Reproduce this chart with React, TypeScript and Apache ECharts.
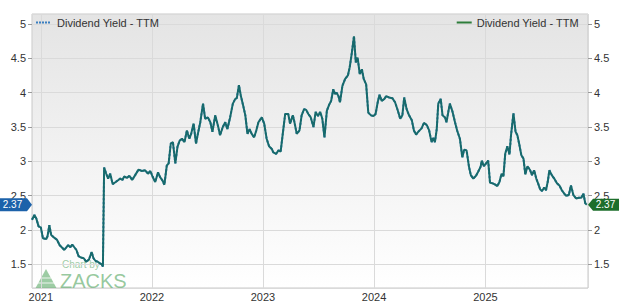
import React, { useEffect, useRef } from 'react';
import * as echarts from 'echarts';

const seriesLabel = 'Dividend Yield - TTM';

const dates = [
  '2020-12-03','2020-12-11','2020-12-17','2020-12-25','2021-01-01','2021-01-08','2021-01-19','2021-01-23','2021-01-29','2021-02-04',
  '2021-02-14','2021-02-23','2021-03-04','2021-03-13','2021-03-19','2021-03-26','2021-04-01','2021-04-08','2021-04-14','2021-04-21',
  '2021-04-28','2021-05-05','2021-05-13','2021-05-22','2021-05-30','2021-06-08','2021-06-17','2021-06-23','2021-06-30','2021-07-07',
  '2021-07-13','2021-07-20','2021-07-24','2021-07-28','2021-08-04','2021-08-10','2021-08-17','2021-08-25','2021-09-04','2021-09-13',
  '2021-09-19','2021-09-26','2021-10-02','2021-10-11','2021-10-19','2021-10-28','2021-11-07','2021-11-18','2021-11-29','2021-12-10',
  '2021-12-19','2021-12-27','2022-01-03','2022-01-12','2022-01-21','2022-01-28','2022-02-05','2022-02-11','2022-02-19','2022-02-25',
  '2022-03-04','2022-03-11','2022-03-19','2022-03-26','2022-04-02','2022-04-10','2022-04-18','2022-04-26','2022-05-04','2022-05-10',
  '2022-05-18','2022-05-26','2022-06-01','2022-06-09','2022-06-18','2022-06-25','2022-07-04','2022-07-12','2022-07-19','2022-07-28',
  '2022-08-06','2022-08-13','2022-08-22','2022-08-30','2022-09-06','2022-09-15','2022-09-24','2022-10-02','2022-10-07','2022-10-14',
  '2022-10-20','2022-10-29','2022-11-04','2022-11-11','2022-11-18','2022-11-25','2022-12-03','2022-12-10','2022-12-17','2022-12-28',
  '2023-01-05','2023-01-13','2023-01-21','2023-01-30','2023-02-04','2023-02-13','2023-02-21','2023-02-28','2023-03-07','2023-03-15',
  '2023-03-25','2023-03-31','2023-04-09','2023-04-13','2023-04-22','2023-05-01','2023-05-08','2023-05-16','2023-05-23','2023-05-30',
  '2023-06-07','2023-06-16','2023-06-23','2023-07-01','2023-07-08','2023-07-15','2023-07-22','2023-07-30','2023-08-06','2023-08-13',
  '2023-08-20','2023-08-26','2023-08-31','2023-09-06','2023-09-11','2023-09-19','2023-09-28','2023-10-07','2023-10-13','2023-10-20',
  '2023-10-27','2023-11-02','2023-11-08','2023-11-15','2023-11-22','2023-11-28','2023-12-06','2023-12-13','2023-12-22','2023-12-30',
  '2024-01-06','2024-01-13','2024-01-19','2024-01-26','2024-02-04','2024-02-10','2024-02-19','2024-03-01','2024-03-10','2024-03-19',
  '2024-03-27','2024-04-03','2024-04-09','2024-04-17','2024-04-25','2024-05-04','2024-05-11','2024-05-18','2024-05-25','2024-06-05',
  '2024-06-13','2024-06-22','2024-06-30','2024-07-08','2024-07-13','2024-07-19','2024-07-25','2024-07-30','2024-08-07','2024-08-13',
  '2024-08-21','2024-08-26','2024-09-01','2024-09-06','2024-09-15','2024-09-23','2024-09-30','2024-10-09','2024-10-17','2024-10-23',
  '2024-10-31','2024-11-08','2024-11-14','2024-11-22','2024-12-01','2024-12-08','2024-12-16','2024-12-20','2024-12-27','2025-01-03',
  '2025-01-10','2025-01-16','2025-01-25','2025-02-03','2025-02-09','2025-02-16','2025-02-23','2025-03-01','2025-03-07','2025-03-14',
  '2025-03-21','2025-03-26','2025-04-03','2025-04-10','2025-04-16','2025-04-23','2025-04-29','2025-05-06','2025-05-12','2025-05-19',
  '2025-05-28','2025-06-03','2025-06-10','2025-06-17','2025-06-23','2025-06-30','2025-07-06','2025-07-13','2025-07-19','2025-07-25',
  '2025-07-30','2025-08-07','2025-08-15','2025-08-24','2025-09-01','2025-09-09','2025-09-17','2025-09-23','2025-10-02','2025-10-09',
  '2025-10-17','2025-10-26','2025-11-04','2025-11-12','2025-11-19','2025-11-25','2025-11-30',
];

const yieldValues = [
  2.15,2.22,2.17,2.05,2.04,1.88,1.87,1.91,2.07,1.93,
  1.89,1.86,1.78,1.74,1.71,1.75,1.78,1.75,1.79,1.75,
  1.71,1.62,1.60,1.59,1.54,1.57,1.68,1.59,1.55,1.54,
  1.52,1.50,1.47,2.91,2.82,2.75,2.82,2.67,2.70,2.73,
  2.75,2.73,2.78,2.76,2.79,2.73,2.80,2.88,2.86,2.87,
  2.82,2.86,2.78,2.70,2.84,2.77,2.72,2.66,2.94,2.97,
  3.26,3.28,2.97,3.21,3.30,3.33,3.28,3.45,3.33,3.40,
  3.55,3.26,3.40,3.57,3.84,3.62,3.64,3.57,3.43,3.67,
  3.52,3.38,3.50,3.57,3.47,3.64,3.84,3.91,3.92,4.11,
  3.96,3.79,3.67,3.40,3.47,3.40,3.35,3.45,3.57,3.64,
  3.55,3.33,3.22,3.18,3.13,3.11,3.16,3.14,3.40,3.69,
  3.69,3.55,3.67,3.60,3.40,3.45,3.67,3.76,3.75,3.69,
  3.64,3.50,3.72,3.66,3.72,3.62,3.35,3.74,3.82,3.88,
  4.05,3.98,4.00,3.95,3.86,4.10,4.20,4.25,4.37,4.58,
  4.82,4.44,4.51,4.27,4.34,4.20,4.12,3.71,3.67,3.66,
  3.69,3.86,3.97,3.88,3.91,3.95,3.93,3.92,3.86,3.74,
  3.62,3.67,3.93,3.76,3.67,3.60,3.45,3.39,3.43,3.48,
  3.56,3.53,3.45,3.28,3.34,3.28,3.47,3.84,3.91,3.67,
  3.64,3.57,3.72,3.84,3.72,3.57,3.45,3.33,3.06,3.17,
  3.16,2.92,2.80,2.75,2.79,2.85,2.92,3.01,2.93,2.97,
  3.01,2.69,2.68,2.66,2.64,2.70,2.82,2.78,3.11,3.22,
  3.10,3.38,3.70,3.43,3.38,3.23,3.09,3.04,2.81,2.93,
  2.87,2.80,2.87,2.75,2.68,2.59,2.57,2.62,2.58,2.71,
  2.87,2.80,2.75,2.68,2.65,2.58,2.53,2.50,2.51,2.65,
  2.51,2.46,2.47,2.47,2.53,2.39,2.37,
];

const xRange = ['2020-12-03', '2025-12-04'];
const yRange = [1.157, 5.145];

const FONT = 'Arial, "Liberation Sans", sans-serif';

export default function App() {
  const ref = useRef<HTMLDivElement>(null);
  useEffect(() => {
    const chart = echarts.init(ref.current!, null, { renderer: 'svg' });
    const data = dates.map((d, i) => [d, yieldValues[i]]);
    const last = yieldValues[yieldValues.length - 1];
    const lastLabel = last.toFixed(2);
    const gridColor = '#dadada';
    const labelStyle = { color: '#333', fontSize: 11, fontFamily: FONT };
    const yAxisBase = {
      type: 'value',
      min: yRange[0],
      max: yRange[1],
      splitNumber: 8,
      axisLine: { show: false },
      axisTick: { show: true, length: 4, lineStyle: { color: '#999' } },
      axisLabel: { ...labelStyle, lineHeight: 10, margin: 6, showMinLabel: false, showMaxLabel: false },
    };
    const tagLabel = { show: true, position: 'inside', formatter: lastLabel, color: '#fff', fontSize: 10, lineHeight: 8, fontFamily: FONT };
    const option = {
      animation: false,
      textStyle: { fontFamily: FONT },
      grid: {
        left: 32, right: 32, top: 14, bottom: 12,
        show: true,
        borderColor: '#c9c9c9',
        borderWidth: 1,
        backgroundColor: new echarts.graphic.LinearGradient(0, 0, 0, 1, [
          { offset: 0, color: '#e4e4e4' },
          { offset: 1, color: '#ffffff' },
        ]),
      },
      legend: [
        {
          data: [{ name: 'left', icon: 'path://M0,0h2v2h-2z M3,0h2v2h-2z M6,0h2v2h-2z M9,0h2v2h-2z M12,0h2v2h-2z' }],
          left: 36, top: 17, padding: 0,
          itemWidth: 14, itemHeight: 2, itemGap: 6,
          selectedMode: false,
          formatter: () => seriesLabel,
          textStyle: { ...labelStyle, padding: [0, 0, 0, 2] },
        },
        {
          data: [{ name: 'right', icon: 'path://M0,0h15v2h-15z' }],
          right: 41, top: 17, padding: 0,
          itemWidth: 15, itemHeight: 2,
          selectedMode: false,
          formatter: () => seriesLabel,
          textStyle: { ...labelStyle },
        },
      ],
      xAxis: {
        type: 'time',
        min: xRange[0],
        max: xRange[1],
        minInterval: 365 * 24 * 3600 * 1000,
        maxInterval: 366 * 24 * 3600 * 1000,
        axisLine: { show: false },
        axisTick: { show: false },
        axisLabel: { ...labelStyle, margin: 3, formatter: '{yyyy}', hideOverlap: false },
        splitLine: { show: true, lineStyle: { color: gridColor } },
      },
      yAxis: [
        { ...yAxisBase, position: 'left', splitLine: { show: true, lineStyle: { color: gridColor } } },
        { ...yAxisBase, position: 'right', splitLine: { show: false } },
      ],
      series: [
        {
          name: 'left',
          type: 'line',
          yAxisIndex: 0,
          data,
          symbol: 'none',
          z: 2,
          itemStyle: { color: '#3a7fc0' },
          lineStyle: { color: '#3a7fc0', width: 2, type: 'dotted' },
          markPoint: {
            silent: true,
            data: [{ coord: [xRange[0], last], value: last }],
            symbol: 'path://M0,0 L28,0 L33,6.5 L28,13 L0,13 Z',
            symbolSize: [33, 13],
            symbolOffset: [-16.5, 0],
            itemStyle: { color: '#1c62aa' },
            label: { ...tagLabel, offset: [-3, 0] },
          },
        },
        {
          name: 'right',
          type: 'line',
          yAxisIndex: 1,
          data,
          symbol: 'none',
          z: 3,
          itemStyle: { color: '#2d7d3a' },
          lineStyle: { color: '#176a6c', width: 2 },
          markPoint: {
            silent: true,
            data: [{ coord: [xRange[1], last], value: last }],
            symbol: 'path://M5,0 L31,0 L31,12 L5,12 L0,6 Z',
            symbolSize: [31, 12],
            symbolOffset: [15.5, 0],
            itemStyle: { color: '#1d6e2b' },
            label: { ...tagLabel, offset: [2, 0] },
          },
        },
      ],
      graphic: [
        {
          type: 'group',
          silent: true,
          z: 10,
          children: [
            { type: 'polygon', shape: { points: [[35, 289], [46, 269], [57, 289]] }, style: { fill: 'rgba(92,170,104,0.6)' } },
            { type: 'line', shape: { x1: 38, y1: 283, x2: 54, y2: 283 }, style: { stroke: 'rgba(255,255,255,0.8)', lineWidth: 1 } },
            { type: 'line', shape: { x1: 41, y1: 278, x2: 51, y2: 278 }, style: { stroke: 'rgba(255,255,255,0.8)', lineWidth: 1 } },
            { type: 'text', x: 62, y: 259, style: { text: 'Chart by', fontSize: 10, lineHeight: 11, fontFamily: FONT, fill: 'rgba(92,170,104,0.6)' } },
            { type: 'text', x: 60, y: 271, style: { text: 'ZACKS', fontSize: 20, lineHeight: 20, fontFamily: FONT, fill: 'rgba(92,170,104,0.65)' } },
          ],
        },
      ],
    };
    chart.setOption(option as any);
    return () => chart.dispose();
  }, []);
  return <div ref={ref} style={{ position: 'absolute', left: 0, top: 0, width: 620, height: 302 }} />;
}
